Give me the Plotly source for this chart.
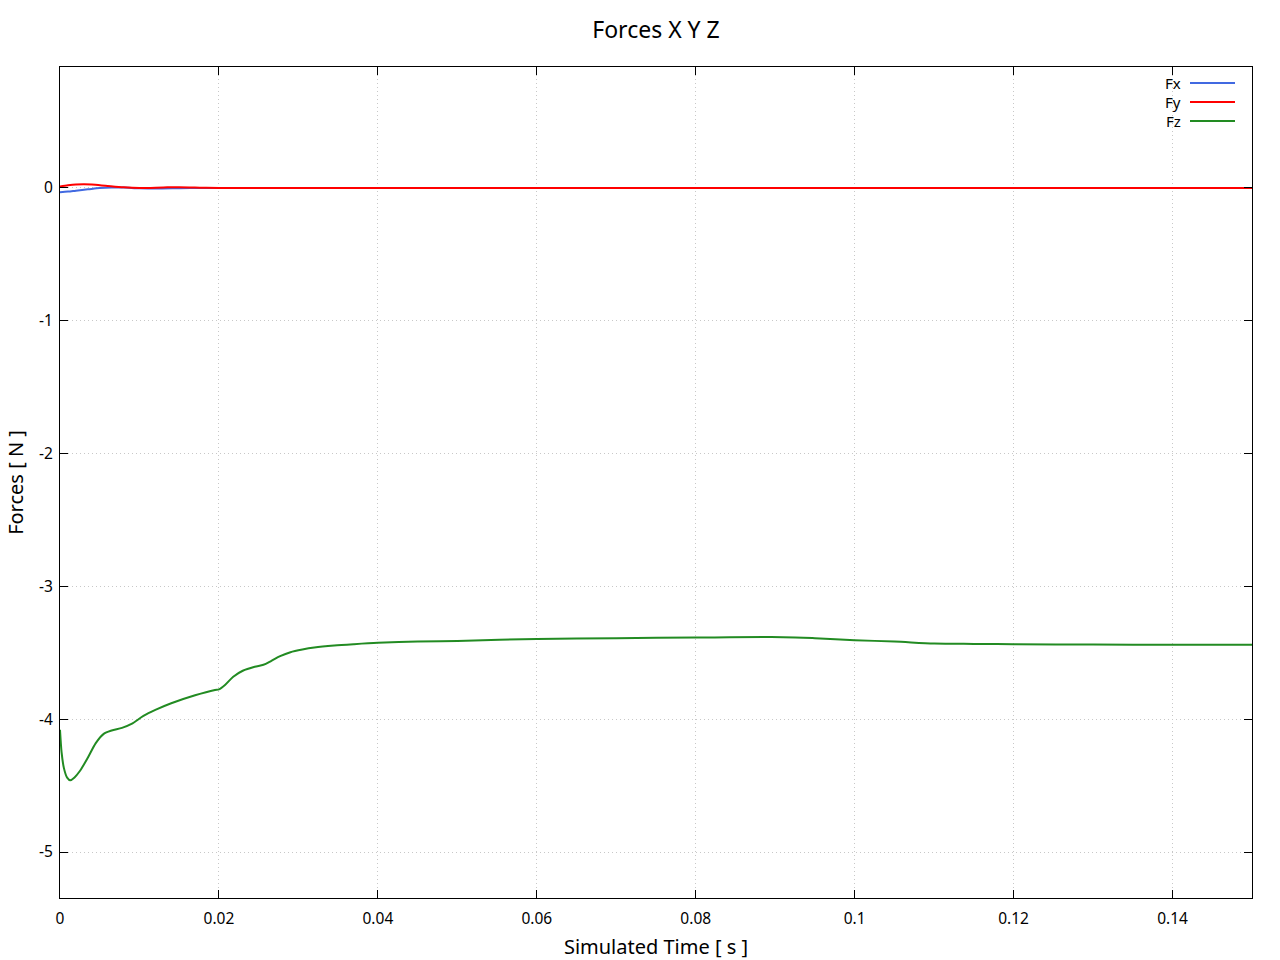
import plotly.graph_objects as go

# ---- data ----
t_fz = [0, 0.0002, 0.0005, 0.0009, 0.0013, 0.0018, 0.0025, 0.0035, 0.0045, 0.0055,
        0.0065, 0.0078, 0.009, 0.0105, 0.012, 0.014, 0.017, 0.0195, 0.0200, 0.0208,
        0.0218, 0.023, 0.0245, 0.0256, 0.0266, 0.0277, 0.029, 0.0305, 0.032, 0.0345,
        0.037, 0.040, 0.045, 0.05, 0.06, 0.07, 0.08, 0.091, 0.095, 0.1, 0.105, 0.11,
        0.115, 0.12, 0.13, 0.14, 0.15]
fz = [-4.08, -4.25, -4.37, -4.44, -4.46, -4.44, -4.39, -4.29, -4.18, -4.11,
      -4.085, -4.065, -4.035, -3.975, -3.93, -3.88, -3.82, -3.78, -3.775, -3.74,
      -3.68, -3.635, -3.605, -3.59, -3.56, -3.525, -3.495, -3.475, -3.46, -3.445,
      -3.435, -3.425, -3.415, -3.41, -3.395, -3.39, -3.385, -3.382, -3.39, -3.405,
      -3.415, -3.43, -3.433, -3.435, -3.438, -3.44, -3.44]

t_fx = [0, 0.001, 0.002, 0.0035, 0.005, 0.0065, 0.008, 0.01, 0.012, 0.015, 0.018, 0.02, 0.03, 0.15]
fx = [-0.032, -0.027, -0.02, -0.01, 0.0, 0.004, 0.003, -0.002, -0.004, -0.002, 0.0, 0.0, 0.0, 0.0]

t_fy = [0, 0.001, 0.002, 0.003, 0.004, 0.006, 0.008, 0.01, 0.013, 0.015, 0.018, 0.02, 0.15]
fy = [0.012, 0.02, 0.026, 0.028, 0.026, 0.015, 0.005, 0.0, 0.004, 0.006, 0.002, 0.0, 0.0]

series_names = ["Fx", "Fy", "Fz"]
series_colors = ["#4169E1", "#FF0000", "#228B22"]

x_ticks = [0, 0.02, 0.04, 0.06, 0.08, 0.1, 0.12, 0.14]
x_tick_labels = ["0", "0.02", "0.04", "0.06", "0.08", "0.1", "0.12", "0.14"]
y_ticks = [0, -1, -2, -3, -4, -5]
y_tick_labels = ["0", "-1", "-2", "-3", "-4", "-5"]

FONT = "Noto Sans"

fig = go.Figure()
for name, tx, vals, col in zip(series_names, [t_fx, t_fy, t_fz], [fx, fy, fz], series_colors):
    fig.add_trace(go.Scatter(x=tx, y=vals, mode="lines", name=name,
                             line=dict(color=col, width=2, shape="spline", smoothing=0.8),
                             showlegend=False))

# gnuplot-style legend: text then line sample
for i, (name, col) in enumerate(zip(series_names, series_colors)):
    ypix = 83 + 19 * i
    yp = 1 - (ypix - 67) / (898 - 67)
    x_text = (1183 - 60) / (1252 - 60)
    x0 = (1190 - 60) / (1252 - 60)
    x1 = (1235 - 60) / (1252 - 60)
    fig.add_annotation(x=x_text, y=yp, xref="paper", yref="paper", text=name,
                       showarrow=False, xanchor="right", yanchor="middle",
                       font=dict(family=FONT, size=15, color="black"))
    fig.add_shape(type="line", xref="paper", yref="paper", x0=x0, x1=x1, y0=yp, y1=yp,
                  line=dict(color=col, width=2))

axis_common = dict(showline=True, linecolor="black", linewidth=1, mirror="allticks",
                   ticks="inside", ticklen=8, tickcolor="black", tickwidth=1,
                   showgrid=True, gridcolor="#c8c8c8", griddash="1px,3px", gridwidth=1,
                   zeroline=False, automargin=False,
                   tickfont=dict(family=FONT, size=15.5, color="black"))

fig.update_layout(
    width=1280, height=960,
    paper_bgcolor="white", plot_bgcolor="white",
    margin=dict(l=60, r=28, t=67, b=62),
    title=dict(text="Forces X Y Z", xref="paper", x=0.5, xanchor="center",
               yref="container", y=1 - 30 / 960, yanchor="middle",
               font=dict(family=FONT, size=23, color="black")),
    xaxis=dict(range=[0, 0.15], tickvals=x_ticks, ticktext=x_tick_labels,
               ticklabelstandoff=6,
               title=dict(text="Simulated Time [ s ]", standoff=12,
                          font=dict(family=FONT, size=20, color="black")),
               **axis_common),
    yaxis=dict(range=[-5.346, 0.911], tickvals=y_ticks, ticktext=y_tick_labels,
               ticklabelstandoff=3,
               title=dict(text="Forces [ N ]", standoff=10,
                          font=dict(family=FONT, size=20, color="black")),
               **axis_common),
)

fig.write_html("out.html", config={"displayModeBar": False},
               post_script="document.body.style.margin='0';document.body.style.overflow='hidden';")
